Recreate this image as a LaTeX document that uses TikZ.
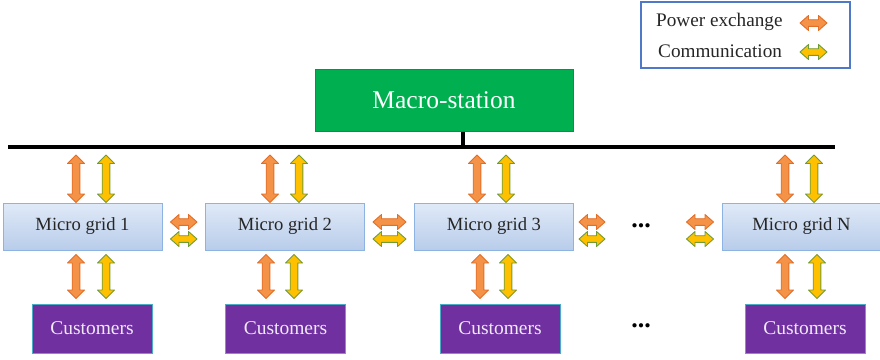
\documentclass[tikz,border=0pt]{standalone}
\usepackage{fontspec}
\setmainfont{Liberation Serif}
\usetikzlibrary{calc}

\definecolor{pwrfill}{RGB}{244,146,72}
\definecolor{pwrline}{RGB}{226,110,40}
\definecolor{comfill}{RGB}{255,192,0}
\definecolor{comline}{RGB}{112,156,56}
\definecolor{macrofill}{RGB}{0,176,80}
\definecolor{macroline}{RGB}{65,100,160}
\definecolor{gridtop}{RGB}{224,234,248}
\definecolor{gridbot}{RGB}{184,204,234}
\definecolor{gridline}{RGB}{141,179,226}
\definecolor{custfill}{RGB}{112,48,160}
\definecolor{custline}{RGB}{75,172,198}
\definecolor{custtext}{RGB}{240,234,248}
\definecolor{legline}{RGB}{80,120,200}

% vertical double block arrow between an upper and a lower end
\newcommand\vblockarrow[3]{%
  \path[#1] let \p1=#2, \p2=#3 in
    (\x1,\y1) -- (\x1+8.5pt,\y1-8.5pt) -- (\x1+3.8pt,\y1-8.5pt) -- (\x2+3.8pt,\y2+8.5pt)
    -- (\x2+8.5pt,\y2+8.5pt) -- (\x2,\y2) -- (\x2-8.5pt,\y2+8.5pt) -- (\x2-3.8pt,\y2+8.5pt)
    -- (\x1-3.8pt,\y1-8.5pt) -- (\x1-8.5pt,\y1-8.5pt) -- cycle;}

% horizontal double block arrow between a left and a right end
\newcommand\hblockarrow[3]{%
  \path[#1] let \p1=#2, \p2=#3 in
    (\x1,\y1) -- (\x1+8.5pt,\y1+7.5pt) -- (\x1+8.5pt,\y1+3.3pt) -- (\x2-8.5pt,\y2+3.3pt)
    -- (\x2-8.5pt,\y2+7.5pt) -- (\x2,\y2) -- (\x2-8.5pt,\y2-7.5pt) -- (\x2-8.5pt,\y2-3.3pt)
    -- (\x1+8.5pt,\y1-3.3pt) -- (\x1+8.5pt,\y1-7.5pt) -- cycle;}

\begin{document}
\begin{tikzpicture}[x=1pt,y=-1pt,
  power/.style={fill=pwrfill, draw=pwrline, line width=0.9pt, line join=round},
  comm/.style={fill=comfill, draw=comline, line width=0.9pt, line join=round},
  gridbox/.style={rectangle, draw=gridline, line width=1pt, top color=gridtop,
    bottom color=gridbot, minimum width=159pt, minimum height=47pt, inner sep=0pt,
    font=\fontsize{18.6}{20}\selectfont, text=black!85},
  custbox/.style={rectangle, draw=custline, fill=custfill, line width=1pt,
    minimum width=120pt, minimum height=49pt, inner sep=0pt,
    font=\fontsize{19.5}{21}\selectfont, text=custtext},
  macrobox/.style={rectangle, draw=macroline, fill=macrofill, line width=1pt,
    minimum width=258pt, minimum height=62pt, inner sep=0pt,
    font=\fontsize{25.5}{28}\selectfont, text=white},
  legtext/.style={anchor=west, inner sep=0pt, font=\fontsize{19.2}{21}\selectfont, text=black!85},
  dotsmark/.style={inner sep=0pt, font=\fontsize{26}{28}\selectfont\bfseries},
  busline/.style={line width=4pt, black}]

\useasboundingbox (0,0) rectangle (880,359);

% legend
\node[draw=legline, line width=1.5pt, minimum width=209pt, minimum height=66pt, inner sep=0pt]
  (legend) at (745.5,35) {};
\node[legtext] (lpow) at (656,22) {Power exchange};
\node[legtext] (lcom) at (658,51) {Communication};
\hblockarrow{power}{(800,23)}{(827,23)}
\hblockarrow{comm}{(800,52)}{(827,52)}

% macro-station and bus
\node[macrobox] (macro) at (444,100) {Macro-station};
\coordinate (busL) at (8,147);
\coordinate (busR) at (835,147);
\coordinate (busT) at (463,147);
\draw[busline] (busL) -- (busR);
\draw[line width=3.5pt] (macro.south -| busT) -- (busT);

% micro grids
\node[gridbox] (mg1) at (82.5,226.5) {Micro grid 1};
\node[gridbox] (mg2) at (285,226.5) {Micro grid 2};
\node[gridbox] (mg3) at (494,226.5) {Micro grid 3};
\node[gridbox] (mgN) at (801.5,226.5) {Micro grid N};

% customers
\node[custbox] (cust1) at (92,328.5) {Customers};
\node[custbox] (cust2) at (285.5,328.5) {Customers};
\node[custbox] (cust3) at (500,328.5) {Customers};
\node[custbox] (custN) at (805,328.5) {Customers};

% ellipses
\node[dotsmark] (dots1) at (641,226) {...};
\node[dotsmark] (dots2) at (641,326) {...};

% bus <-> micro grids
\foreach \g/\xa/\xb in {mg1/76/106, mg2/270/299, mg3/477/506, mgN/785/814}{
  \vblockarrow{power}{(\xa,155)}{(\xa,0 |- \g.north)}
  \vblockarrow{comm}{(\xb,155)}{(\xb,0 |- \g.north)}
}

% micro grids <-> customers
\foreach \g/\c/\xa/\xb in {mg1/cust1/76/106, mg2/cust2/266/294, mg3/cust3/480/508, mgN/custN/785/817}{
  \vblockarrow{power}{($(\xa,0 |- \g.south)+(0,4)$)}{($(\xa,0 |- \c.north)+(0,-5)$)}
  \vblockarrow{comm}{($(\xb,0 |- \g.south)+(0,4)$)}{($(\xb,0 |- \c.north)+(0,-5)$)}
}

% neighbouring micro grids
\foreach \a/\b in {mg1/mg2, mg2/mg3}{
  \hblockarrow{power}{($(\a.east)+(8,-4.5)$)}{($(\b.west)+(-8,-4.5)$)}
  \hblockarrow{comm}{($(\a.east)+(8,12.5)$)}{($(\b.west)+(-8,12.5)$)}
}
\hblockarrow{power}{($(mg3.east)+(5,-4.5)$)}{($(mg3.east)+(31,-4.5)$)}
\hblockarrow{comm}{($(mg3.east)+(5,12.5)$)}{($(mg3.east)+(31,12.5)$)}
\hblockarrow{power}{($(mgN.west)+(-35,-4.5)$)}{($(mgN.west)+(-8,-4.5)$)}
\hblockarrow{comm}{($(mgN.west)+(-35,12.5)$)}{($(mgN.west)+(-8,12.5)$)}

\end{tikzpicture}
\end{document}
